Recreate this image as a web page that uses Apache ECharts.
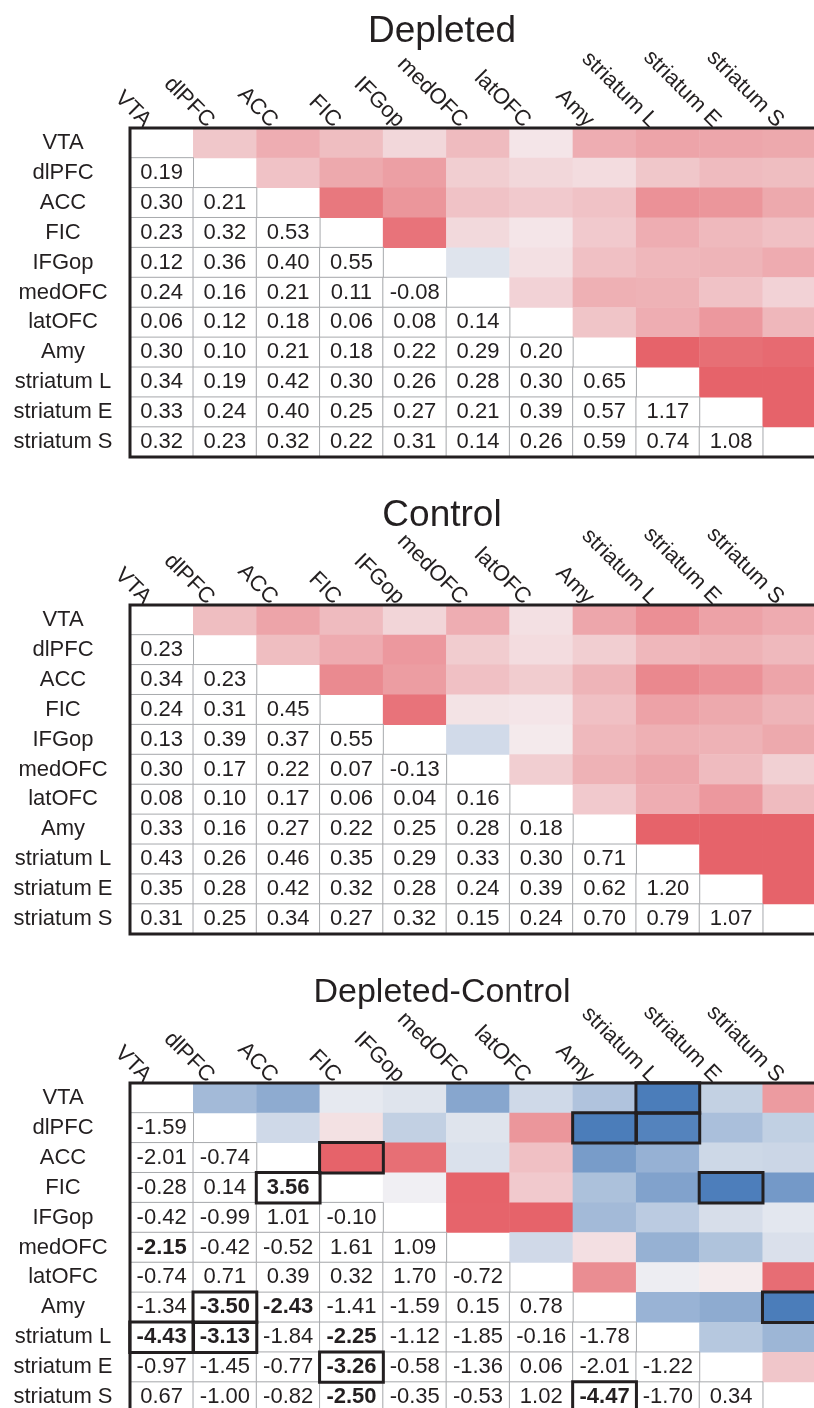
<!DOCTYPE html>
<html>
<head>
<meta charset="utf-8">
<title>Depleted / Control correlation matrices</title>
<script src="https://cdn.jsdelivr.net/npm/echarts@6/dist/echarts.min.js"></script>
<style>
  html, body { margin: 0; padding: 0; background: #fff; }
  #chart { width: 814px; height: 1408px; }
</style>
</head>
<body>
<div id="chart"></div>
<script>
var names = ['VTA', 'dlPFC', 'ACC', 'FIC', 'IFGop', 'medOFC', 'latOFC', 'Amy', 'striatum L', 'striatum E', 'striatum S']

// lower triangle, one array per row (from dlPFC down)
var depleted = [
  [0.19],
  [0.30, 0.21],
  [0.23, 0.32, 0.53],
  [0.12, 0.36, 0.40, 0.55],
  [0.24, 0.16, 0.21, 0.11, -0.08],
  [0.06, 0.12, 0.18, 0.06, 0.08, 0.14],
  [0.30, 0.10, 0.21, 0.18, 0.22, 0.29, 0.20],
  [0.34, 0.19, 0.42, 0.30, 0.26, 0.28, 0.30, 0.65],
  [0.33, 0.24, 0.40, 0.25, 0.27, 0.21, 0.39, 0.57, 1.17],
  [0.32, 0.23, 0.32, 0.22, 0.31, 0.14, 0.26, 0.59, 0.74, 1.08]
]

var control = [
  [0.23],
  [0.34, 0.23],
  [0.24, 0.31, 0.45],
  [0.13, 0.39, 0.37, 0.55],
  [0.30, 0.17, 0.22, 0.07, -0.13],
  [0.08, 0.10, 0.17, 0.06, 0.04, 0.16],
  [0.33, 0.16, 0.27, 0.22, 0.25, 0.28, 0.18],
  [0.43, 0.26, 0.46, 0.35, 0.29, 0.33, 0.30, 0.71],
  [0.35, 0.28, 0.42, 0.32, 0.28, 0.24, 0.39, 0.62, 1.20],
  [0.31, 0.25, 0.34, 0.27, 0.32, 0.15, 0.24, 0.70, 0.79, 1.07]
]

var diff = [
  [-1.59],
  [-2.01, -0.74],
  [-0.28, 0.14, 3.56],
  [-0.42, -0.99, 1.01, -0.10],
  [-2.15, -0.42, -0.52, 1.61, 1.09],
  [-0.74, 0.71, 0.39, 0.32, 1.70, -0.72],
  [-1.34, -3.50, -2.43, -1.41, -1.59, 0.15, 0.78],
  [-4.43, -3.13, -1.84, -2.25, -1.12, -1.85, -0.16, -1.78],
  [-0.97, -1.45, -0.77, -3.26, -0.58, -1.36, 0.06, -2.01, -1.22],
  [0.67, -1.00, -0.82, -2.50, -0.35, -0.53, 1.02, -4.47, -1.70, 0.34]
]

// [row, column] of the bold values and of the boxed cells in the difference matrix
var diffBold = [
  ['FIC', 'ACC'], ['medOFC', 'VTA'], ['Amy', 'dlPFC'], ['Amy', 'ACC'], ['striatum L', 'VTA'],
  ['striatum L', 'dlPFC'], ['striatum L', 'FIC'], ['striatum E', 'FIC'], ['striatum S', 'FIC'], ['striatum S', 'Amy']
]
var diffBoxed = [
  ['FIC', 'ACC'], ['Amy', 'dlPFC'], ['striatum L', 'VTA'], ['striatum L', 'dlPFC'], ['striatum E', 'FIC'], ['striatum S', 'Amy']
]

var titles = ['Depleted', 'Control', 'Depleted-Control']

var ink = '#231f20'
var gridTops = [128, 605, 1083]
var titleTops = [8, 492, 971]
var titleSizes = [37, 37, 34]

function hasPair(list, r, c) {
  return list.some(function (p) {
    return names.indexOf(p[0]) === r && names.indexOf(p[1]) === c
  })
}

function buildSeries(p, rows, bold, boxed) {
  var lower = []
  var upper = []
  var boxes = []
  rows.forEach(function (vals, k) {
    var r = k + 1
    vals.forEach(function (v, c) {
      if (hasPair(bold, r, c)) {
        lower.push({ value: [c, r, v], label: { fontWeight: 'bold' } })
      } else {
        lower.push([c, r, v])
      }
      upper.push([r, c, v])
      if (hasPair(boxed, r, c)) {
        boxes.push([c, r, v])
        boxes.push([r, c, v])
      }
    })
  })
  return [{
    type: 'heatmap',
    xAxisIndex: p,
    yAxisIndex: p,
    data: upper,
    silent: true,
    emphasis: { disabled: true }
  }, {
    type: 'heatmap',
    xAxisIndex: p,
    yAxisIndex: p,
    data: lower,
    silent: true,
    emphasis: { disabled: true },
    itemStyle: {
      color: '#ffffff',
      borderColor: '#a7a9ac',
      borderWidth: 1
    },
    label: {
      show: true,
      color: ink,
      fontSize: 22,
      fontFamily: 'Liberation Sans',
      formatter: function (d) {
        return d.value[2].toFixed(2)
      }
    }
  }, {
    type: 'heatmap',
    xAxisIndex: p,
    yAxisIndex: p,
    data: boxes,
    silent: true,
    z: 5,
    emphasis: { disabled: true },
    itemStyle: {
      color: 'rgba(0,0,0,0)',
      borderColor: ink,
      borderWidth: 3
    }
  }]
}

var chart = echarts.init(document.getElementById('chart'), null, { renderer: 'canvas' })

var grids = []
var xAxes = []
var yAxes = []
var series = []
var titleList = []
;[depleted, control, diff].forEach(function (rows, p) {
  grids.push({
    left: 130,
    top: gridTops[p],
    width: 696,
    height: 329,
    show: true,
    z: 10,
    borderColor: ink,
    borderWidth: 3,
    backgroundColor: 'transparent',
    outerBoundsMode: 'none'
  })
  xAxes.push({
    type: 'category',
    gridIndex: p,
    position: 'top',
    data: names,
    axisLine: { show: false },
    axisTick: { show: false },
    splitLine: { show: false },
    axisLabel: {
      interval: 0,
      rotate: 45,
      margin: -10,
      padding: [0, 20, 0, 0],
      fontSize: 22,
      color: ink,
      fontFamily: 'Liberation Sans'
    }
  })
  yAxes.push({
    type: 'category',
    gridIndex: p,
    inverse: true,
    data: names,
    axisLine: { show: false },
    axisTick: { show: false },
    splitLine: { show: false },
    axisLabel: {
      interval: 0,
      align: 'center',
      margin: 67,
      fontSize: 22,
      color: ink,
      fontFamily: 'Liberation Sans'
    }
  })
  series = series.concat(buildSeries(p, rows, p === 2 ? diffBold : [], p === 2 ? diffBoxed : []))
  titleList.push({
    text: titles[p],
    left: 437,
    top: titleTops[p],
    textAlign: 'center',
    textStyle: {
      fontSize: titleSizes[p],
      fontWeight: 'normal',
      color: ink,
      fontFamily: 'Liberation Sans'
    }
  })
})

chart.setOption({
  animation: false,
  backgroundColor: '#ffffff',
  textStyle: { fontFamily: 'Liberation Sans' },
  title: titleList,
  grid: grids,
  xAxis: xAxes,
  yAxis: yAxes,
  visualMap: [{
    type: 'continuous',
    show: false,
    seriesIndex: 0,
    min: -0.62,
    max: 0.62,
    inRange: { color: ['#4b7dba', '#f5f3f5', '#e6636a'] }
  }, {
    type: 'continuous',
    show: false,
    seriesIndex: 3,
    min: -0.62,
    max: 0.62,
    inRange: { color: ['#4b7dba', '#f5f3f5', '#e6636a'] }
  }, {
    type: 'continuous',
    show: false,
    seriesIndex: 6,
    min: -3.3,
    max: 1.1,
    inRange: { color: ['#4b7dba', '#84a4cd', '#bccce1', '#f5f3f5', '#e6636a'] }
  }],
  series: series
})
</script>
</body>
</html>
